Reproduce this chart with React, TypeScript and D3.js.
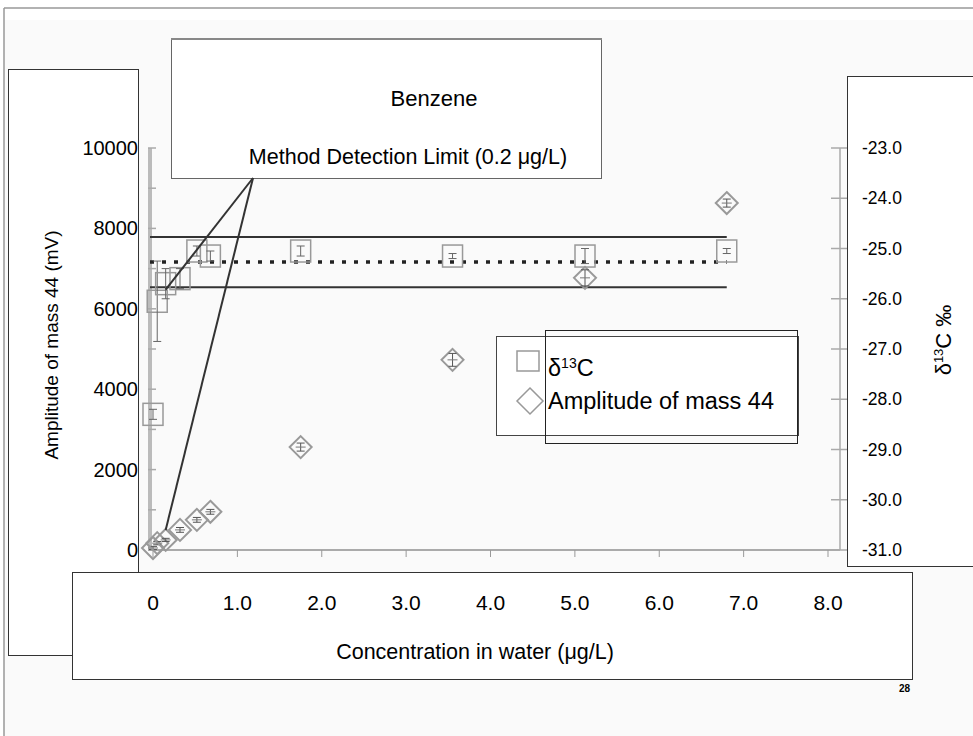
import { useRef, useEffect } from 'react';
import * as d3 from 'd3';

// Benzene calibration: concentration (ug/L), amplitude of mass 44 (mV), d13C (permil)
const conc = [0.0, 0.05, 0.15, 0.32, 0.52, 0.68, 1.75, 3.55, 5.12, 6.8];
const amplitude = [50, 170, 250, 500, 750, 950, 2560, 4730, 6770, 8630];
const amplitudeErr = [40, 40, 40, 60, 60, 60, 100, 160, 200, 100];
const d13C = [-28.3, -26.05, -25.7, -25.6, -25.05, -25.15, -25.05, -25.15, -25.15, -25.05];
const d13CErr = [0.1, 0.8, 0.3, 0.2, 0.1, 0.1, 0.1, 0.05, 0.15, 0.05];
const meanD13C = -25.27;
const sdD13C = 0.5;

const xTicks = [0, 1, 2, 3, 4, 5, 6, 7, 8];
const yLeftTicks = [0, 2000, 4000, 6000, 8000, 10000];
const yRightTicks = [-31, -30, -29, -28, -27, -26, -25, -24, -23];

const FONT = "'Liberation Sans', Arial, sans-serif";

const App = () => {
  const ref = useRef(null);

  useEffect(() => {
    d3.select(ref.current).selectAll("*").remove();
    const svg = d3.select(ref.current);

    const x = d3.scaleLinear().domain([0, 8]).range([153, 828]);
    const yL = d3.scaleLinear().domain([0, 10000]).range([550, 148]);
    const yR = d3.scaleLinear().domain([-31, -23]).range([550, 148]);

    // slide background
    svg.append("rect").attr("width", 973).attr("height", 736).attr("fill", "#fff");
    svg.append("rect").attr("x", 4).attr("y", 20).attr("width", 969).attr("height", 716).attr("fill", "#fafafa");
    svg.append("line").attr("x1", 4).attr("x2", 973).attr("y1", 8).attr("y2", 8).attr("stroke", "#999").attr("stroke-width", 1.5);
    svg.append("line").attr("x1", 4).attr("x2", 4).attr("y1", 8).attr("y2", 736).attr("stroke", "#999").attr("stroke-width", 1.5);

    const box = (x0, y0, w, h, stroke = "#333") =>
      svg.append("rect").attr("x", x0).attr("y", y0).attr("width", w).attr("height", h)
        .attr("fill", "#fff").attr("stroke", stroke).attr("stroke-width", 1);

    // axis label boxes
    box(8.5, 69.5, 130, 586);
    box(847.5, 76.5, 130, 490);

    svg.append("text")
      .attr("transform", "translate(58,345) rotate(-90)")
      .attr("text-anchor", "middle").attr("font-family", FONT).attr("font-size", 19)
      .text("Amplitude of mass 44 (mV)");

    const rl = svg.append("text")
      .attr("transform", "translate(951,340) rotate(-90)")
      .attr("text-anchor", "middle").attr("font-family", FONT).attr("font-size", 22);
    rl.append("tspan").text("δ");
    rl.append("tspan").attr("font-size", 13).attr("dy", -8).text("13");
    rl.append("tspan").attr("dy", 8).text("C ‰");

    // left axis
    svg.append("line").attr("x1", 150).attr("x2", 150).attr("y1", yL(10000)).attr("y2", yL(0))
      .attr("stroke", "#bbb").attr("stroke-width", 4);
    d3.range(0, 10001, 1000).forEach(v => {
      svg.append("line").attr("x1", 148).attr("x2", 156).attr("y1", yL(v)).attr("y2", yL(v))
        .attr("stroke", "#aaa").attr("stroke-width", 1.5);
    });
    svg.append("g").selectAll("text").data(yLeftTicks).join("text")
      .attr("x", 138).attr("y", d => yL(d) + 7).attr("text-anchor", "end")
      .attr("font-family", FONT).attr("font-size", 20).text(d => d);

    // right axis
    svg.append("line").attr("x1", 840).attr("x2", 840).attr("y1", yR(-23)).attr("y2", yR(-31))
      .attr("stroke", "#aaa").attr("stroke-width", 1.5);
    svg.append("g").selectAll("line").data(yRightTicks).join("line")
      .attr("x1", 831).attr("x2", 847).attr("y1", d => yR(d)).attr("y2", d => yR(d))
      .attr("stroke", "#aaa").attr("stroke-width", 1.5);
    svg.append("g").selectAll("text").data(yRightTicks).join("text")
      .attr("x", 862).attr("y", d => yR(d) + 6)
      .attr("font-family", FONT).attr("font-size", 17.5).text(d => d.toFixed(1));

    // bottom axis
    svg.append("line").attr("x1", 148).attr("x2", 840).attr("y1", 550).attr("y2", 550)
      .attr("stroke", "#aaa").attr("stroke-width", 2);
    svg.append("g").selectAll("line").data(xTicks).join("line")
      .attr("x1", d => x(d)).attr("x2", d => x(d)).attr("y1", 550).attr("y2", 557)
      .attr("stroke", "#999").attr("stroke-width", 1);

    // mean and +/- sd lines
    const xEnd = x(conc[conc.length - 1]);
    [meanD13C + sdD13C, meanD13C - sdD13C].forEach(v => {
      svg.append("line").attr("x1", 150).attr("x2", xEnd).attr("y1", yR(v)).attr("y2", yR(v))
        .attr("stroke", "#333").attr("stroke-width", 2);
    });
    svg.append("line").attr("x1", 150).attr("x2", xEnd).attr("y1", yR(meanD13C)).attr("y2", yR(meanD13C))
      .attr("stroke", "#222").attr("stroke-width", 3.5).attr("stroke-dasharray", "4 8");

    // d13C squares
    const sq = svg.append("g");
    conc.forEach((c, i) => {
      const cx = x(c), cy = yR(d13C[i]);
      sq.append("rect").attr("x", cx - 10).attr("y", cy - 11).attr("width", 20).attr("height", 22)
        .attr("fill", "none").attr("stroke", "#999").attr("stroke-width", 1.5);
      const y1 = yR(d13C[i] + d13CErr[i]), y2 = yR(d13C[i] - d13CErr[i]);
      sq.append("line").attr("x1", cx).attr("x2", cx).attr("y1", y1).attr("y2", y2).attr("stroke", "#666").attr("stroke-width", 1);
      [y1, y2].forEach(yy => sq.append("line").attr("x1", cx - 4).attr("x2", cx + 4).attr("y1", yy).attr("y2", yy).attr("stroke", "#666").attr("stroke-width", 1));
    });

    // amplitude diamonds
    const dm = svg.append("g");
    conc.forEach((c, i) => {
      const cx = x(c), cy = yL(amplitude[i]);
      const r = 11;
      dm.append("path").attr("d", `M${cx},${cy - r}L${cx + r},${cy}L${cx},${cy + r}L${cx - r},${cy}Z`)
        .attr("fill", "none").attr("stroke", "#999").attr("stroke-width", 2);
      const y1 = yL(amplitude[i] + amplitudeErr[i]), y2 = yL(amplitude[i] - amplitudeErr[i]);
      dm.append("line").attr("x1", cx).attr("x2", cx).attr("y1", y1).attr("y2", y2).attr("stroke", "#555").attr("stroke-width", 1);
      [y1, y2].forEach(yy => dm.append("line").attr("x1", cx - 4).attr("x2", cx + 4).attr("y1", yy).attr("y2", yy).attr("stroke", "#555").attr("stroke-width", 1));
      dm.append("line").attr("x1", cx - 5).attr("x2", cx + 5).attr("y1", cy).attr("y2", cy).attr("stroke", "#777").attr("stroke-width", 1);
    });

    // title box
    box(171.5, 38.5, 430, 140, "#666");
    svg.append("line").attr("x1", 171).attr("x2", 602).attr("y1", 39).attr("y2", 39).attr("stroke", "#888").attr("stroke-width", 2);
    svg.append("text").attr("x", 434).attr("y", 106).attr("text-anchor", "middle")
      .attr("font-family", FONT).attr("font-size", 22).text("Benzene");
    svg.append("text").attr("x", 408).attr("y", 164).attr("text-anchor", "middle")
      .attr("font-family", FONT).attr("font-size", 21.5).text("Method Detection Limit (0.2 μg/L)");

    // callout lines to the points near the detection limit
    const origin = [253, 178];
    [[x(conc[2]), yR(d13C[2]) + 6], [x(conc[2]), yL(amplitude[2]) - 10]].forEach(([tx, ty]) => {
      svg.append("line").attr("x1", origin[0]).attr("y1", origin[1]).attr("x2", tx).attr("y2", ty)
        .attr("stroke", "#333").attr("stroke-width", 2);
    });

    // x axis box
    box(72.5, 572.5, 840, 107);
    svg.append("g").selectAll("text").data(xTicks).join("text")
      .attr("x", d => x(d)).attr("y", 610).attr("text-anchor", "middle")
      .attr("font-family", FONT).attr("font-size", 21).text(d => d === 0 ? "0" : d.toFixed(1));
    svg.append("text").attr("x", 475).attr("y", 659).attr("text-anchor", "middle")
      .attr("font-family", FONT).attr("font-size", 21.5).text("Concentration in water (μg/L)");
    svg.append("text").attr("x", 910).attr("y", 692).attr("text-anchor", "end")
      .attr("font-family", FONT).attr("font-size", 10).attr("font-weight", "bold").text("28");

    // legend
    svg.append("rect").attr("x", 496.5).attr("y", 336.5).attr("width", 302).attr("height", 99)
      .attr("fill", "#fff").attr("stroke", "#444").attr("stroke-width", 1);
    svg.append("rect").attr("x", 545.5).attr("y", 330.5).attr("width", 252).attr("height", 113)
      .attr("fill", "none").attr("stroke", "#222").attr("stroke-width", 1);
    svg.append("rect").attr("x", 517).attr("y", 351).attr("width", 22).attr("height", 20)
      .attr("fill", "none").attr("stroke", "#999").attr("stroke-width", 1.5);
    svg.append("path").attr("d", "M530,388L543,401L530,414L517,401Z")
      .attr("fill", "none").attr("stroke", "#999").attr("stroke-width", 1.5);
    const lt = svg.append("text").attr("x", 548).attr("y", 376).attr("font-family", FONT).attr("font-size", 23.5);
    lt.append("tspan").text("δ");
    lt.append("tspan").attr("font-size", 14).attr("dy", -8).text("13");
    lt.append("tspan").attr("dy", 8).text("C");
    svg.append("text").attr("x", 548).attr("y", 409).attr("font-family", FONT).attr("font-size", 23.5)
      .text("Amplitude of mass 44");
  }, []);

  return (
    <svg ref={ref} width={973} height={736} style={{ position: "absolute", left: 0, top: 0 }} />
  );
};

export default App;
